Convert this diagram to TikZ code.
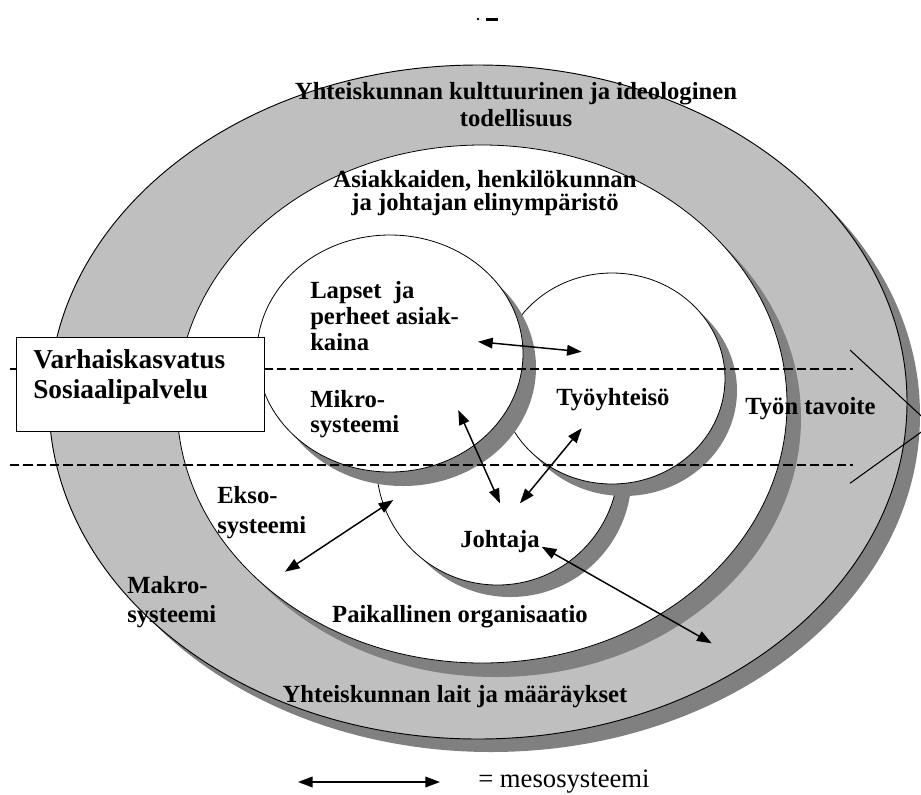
\documentclass[tikz,border=0pt]{standalone}
\usepackage{fontspec}
\setmainfont{Liberation Serif}
\usetikzlibrary{arrows.meta}
\begin{document}
\begin{tikzpicture}[x=0.75pt,y=-0.75pt,
  band/.style={fill=black!25, draw=black, line width=0.7pt},
  shade/.style={fill=black!50},
  disc/.style={fill=white, draw=black, line width=0.6pt},
  sepline/.style={line width=1.2pt, dash pattern=on 7pt off 3pt},
  meso/.style={{Triangle[length=11pt,width=8pt]}-{Triangle[length=11pt,width=8pt]}, line width=1.1pt},
  lbl/.style={font=\bfseries\fontsize{18.5}{20}\selectfont, inner sep=0pt},
  boxlbl/.style={font=\bfseries\fontsize{20.5}{22}\selectfont, inner sep=0pt},
  legendlbl/.style={font=\fontsize{20}{22}\selectfont, inner sep=0pt}]
\useasboundingbox (0,0) rectangle (921,794);
\clip (0,0) rectangle (921,794);

% page mark
\fill (478,19) circle [radius=1.3];
\fill (486,17.5) rectangle (498,20.5);

% outer ring
\fill[shade] (491,415) ellipse [x radius=429, y radius=337];
\path[band] (478,402) ellipse [x radius=429, y radius=337];
% middle
\fill[shade] (496,418) ellipse [x radius=305, y radius=259];
\path[disc] (482,404) ellipse [x radius=305, y radius=259];
% Johtaja circle
\fill[shade] (510.5,476) ellipse [x radius=121, y radius=121];
\path[disc] (497.5,464) ellipse [x radius=121, y radius=121];
% Tyoyhteiso circle
\fill[shade] (624,390.5) ellipse [x radius=113, y radius=105.5];
\path[disc] (612,378.5) ellipse [x radius=113, y radius=105.5];
% Lapset circle
\fill[shade] (403,367.5) ellipse [x radius=133, y radius=118.5];
\path[disc] (390,353.5) ellipse [x radius=133, y radius=118.5];

% dashed separators
\coordinate (d1a) at (10,369);
\coordinate (d1b) at (853,369);
\coordinate (d2a) at (10,465);
\coordinate (d2b) at (853,465);
\draw[sepline] (d1a) -- (d1b);
\draw[sepline] (d2a) -- (d2b);

% goal chevron
\coordinate (g1) at (850,350);
\coordinate (g2) at (850,483.3);
\coordinate (gtip) at (931,425);
\draw[line width=0.8pt] (g1) -- (gtip) -- (g2);

% box
\node[draw=black, line width=1.1pt, fill=white, minimum width=248*0.75pt, minimum height=94*0.75pt, inner sep=0pt, anchor=north west] (box) at (16,337) {};
\node[boxlbl, anchor=base west] (v1) at (33,368) {Varhaiskasvatus};
\node[boxlbl, anchor=base west] (v2) at (33,398) {Sosiaalipalvelu};

% labels
\node[lbl, anchor=base] (t1a) at (516,99) {Yhteiskunnan kulttuurinen ja ideologinen};
\node[lbl, anchor=base] (t1b) at (516,126) {todellisuus};
\node[lbl, anchor=base] (t2a) at (485,187) {Asiakkaiden, henkilökunnan};
\node[lbl, anchor=base] (t2b) at (485,210) {ja johtajan elinympäristö};
\node[lbl, anchor=base west] (l1) at (310,298) {Lapset\ \ ja};
\node[lbl, anchor=base west] (l2) at (310,324) {perheet asiak-};
\node[lbl, anchor=base west] (l3) at (310,350) {kaina};
\node[lbl, anchor=base west] (m1) at (310,407) {Mikro-};
\node[lbl, anchor=base west] (m2) at (310,432) {systeemi};
\node[lbl, anchor=base west] (ty) at (556,405) {Työyhteisö};
\node[lbl, anchor=base west] (tt) at (745,414) {Työn tavoite};
\node[lbl, anchor=base west] (e1) at (217,503) {Ekso-};
\node[lbl, anchor=base west] (e2) at (217,533) {systeemi};
\node[lbl, anchor=base west] (k1) at (127,593) {Makro-};
\node[lbl, anchor=base west] (k2) at (127,622) {systeemi};
\node[lbl, anchor=base west] (jo) at (460,547) {Johtaja};
\node[lbl, anchor=base] (po) at (460,622) {Paikallinen organisaatio};
\node[lbl, anchor=base] (yl) at (455,702) {Yhteiskunnan lait ja määräykset};

% meso arrows
\coordinate (a1s) at (478,341.7);
\coordinate (a1e) at (581.7,351.7);
\coordinate (a2s) at (458.3,410);
\coordinate (a2e) at (500,503.3);
\coordinate (a3s) at (581.7,428.3);
\coordinate (a3e) at (520,503.3);
\coordinate (a4s) at (393.3,500);
\coordinate (a4e) at (285,571.7);
\coordinate (a5s) at (541.7,546.7);
\coordinate (a5e) at (711.7,643.3);
\draw[meso] (a1s) -- (a1e);
\draw[meso] (a2s) -- (a2e);
\draw[meso] (a3s) -- (a3e);
\draw[meso] (a4s) -- (a4e);
\draw[meso] (a5s) -- (a5e);

% legend
\coordinate (lgs) at (298,782);
\coordinate (lge) at (440,782);
\draw[meso] (lgs) -- (lge);
\node[legendlbl, anchor=base west] (lg) at (478,787.5) {= mesosysteemi};
\end{tikzpicture}
\end{document}
